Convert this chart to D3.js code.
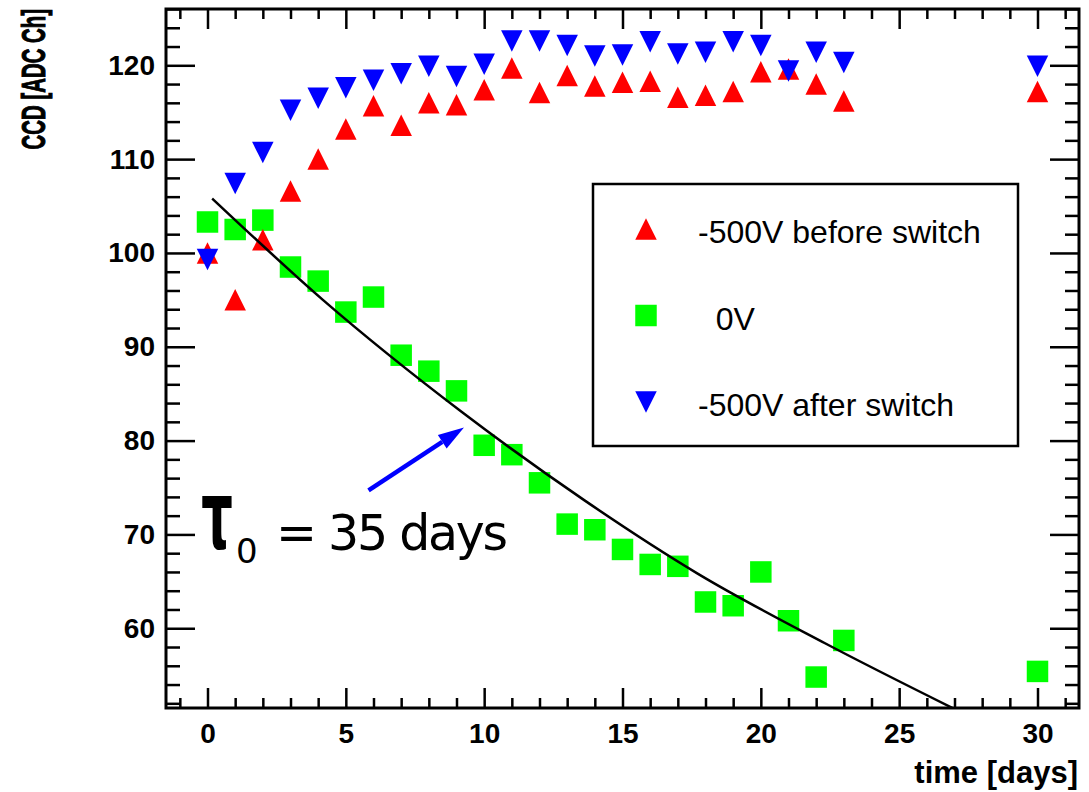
<!DOCTYPE html>
<html>
<head>
<meta charset="utf-8">
<script src="https://cdn.jsdelivr.net/npm/d3@7"></script>
<style>
  body { margin: 0; background: #fff; }
  svg { display: block; }
</style>
</head>
<body>
<div id="chart"></div>
<script>
// measurement days
var days = [0, 1, 2, 3, 4, 5, 6, 7, 8, 9, 10, 11, 12, 13, 14, 15, 16, 17, 18, 19, 20, 21, 22, 23, 30];

// CCD response in ADC channels
var beforeSwitch = [100.0, 95.0, 101.4, 106.6, 110.0, 113.2, 115.7, 113.6, 116.0, 115.8, 117.4, 119.7, 117.1,
    118.9, 117.8, 118.2, 118.3, 116.6, 116.8, 117.2, 119.3, 119.6, 118.0, 116.2, 117.2];
var zeroVolt = [103.3, 102.5, 103.5, 98.5, 97.0, 93.7, 95.3, 89.1, 87.4, 85.3, 79.5, 78.5, 75.5,
    71.1, 70.5, 68.4, 66.8, 66.6, 62.8, 62.4, 66.0, 60.8, 54.8, 58.7, 55.4];
var afterSwitch = [99.3, 107.4, 110.7, 115.2, 116.5, 117.6, 118.4, 119.1, 119.9, 118.8, 120.1, 122.6, 122.6,
    122.1, 121.0, 121.1, 122.5, 121.2, 121.4, 122.5, 122.1, 119.4, 121.4, 120.3, 119.9];

// fitted decay curve
var fitDays = [0.17, 4.17, 9.17, 13.64, 17.73, 22.32, 27.2];
var fitValues = [105.8, 95.0, 83.1, 73.6, 65.8, 58.4, 51.1];

// axis ticks
var xMajorTicks = [0, 5, 10, 15, 20, 25, 30];
var yMajorTicks = [60, 70, 80, 90, 100, 110, 120];

var legendLabels = ["-500V before switch", "  0V", "-500V after switch"];

var width = 1089,
    height = 792,
    frame = { left: 166, top: 9, right: 1079, bottom: 708 },
    markerSize = 21.5,
    tickFont = "'Liberation Sans', Arial, Helvetica, sans-serif",
    red = "#ff0000", green = "#00ff00", blue = "#0000ff";

var xScale = d3.scaleLinear().domain([-1.5, 31.5]).range([frame.left, frame.right]);
var yScale = d3.scaleLinear().domain([51.5, 126]).range([frame.bottom, frame.top]);

var xMinor = d3.range(-1, 32, 1).filter(function (d) { return xMajorTicks.indexOf(d) < 0; });
var yMinor = d3.range(52, 127, 2).filter(function (d) { return yMajorTicks.indexOf(d) < 0; });

var svg = d3.select("#chart").append("svg")
    .attr("width", width)
    .attr("height", height);

svg.append("rect").attr("width", width).attr("height", height).attr("fill", "#fff");

svg.append("clipPath").attr("id", "plotclip")
    .append("rect")
    .attr("x", frame.left).attr("y", frame.top)
    .attr("width", frame.right - frame.left)
    .attr("height", frame.bottom - frame.top);

// axes with inward ticks on all four sides
function styleAxis(g) {
    g.select(".domain").remove();
    g.selectAll(".tick line").attr("stroke", "#000").attr("stroke-width", 2.5);
}

function addAxis(axis, tx, ty, labels) {
    var g = svg.append("g")
        .attr("transform", "translate(" + tx + "," + ty + ")")
        .call(axis);
    styleAxis(g);
    if (!labels) g.selectAll("text").remove();
    return g;
}

var xBottom = addAxis(d3.axisBottom(xScale).tickValues(xMajorTicks).tickSize(-20).tickPadding(15)
    .tickFormat(d3.format("d")), 0, frame.bottom, true);
addAxis(d3.axisBottom(xScale).tickValues(xMinor).tickSize(-10), 0, frame.bottom, false);
addAxis(d3.axisTop(xScale).tickValues(xMajorTicks).tickSize(-20), 0, frame.top, false);
addAxis(d3.axisTop(xScale).tickValues(xMinor).tickSize(-10), 0, frame.top, false);

var yLeft = addAxis(d3.axisLeft(yScale).tickValues(yMajorTicks).tickSize(-29).tickPadding(11)
    .tickFormat(d3.format("d")), frame.left, 0, true);
addAxis(d3.axisLeft(yScale).tickValues(yMinor).tickSize(-14), frame.left, 0, false);
addAxis(d3.axisRight(yScale).tickValues(yMajorTicks).tickSize(-29), frame.right, 0, false);
addAxis(d3.axisRight(yScale).tickValues(yMinor).tickSize(-14), frame.right, 0, false);

xBottom.selectAll("text")
    .attr("font-family", tickFont).attr("font-weight", "bold").attr("font-size", 28).attr("fill", "#000");
yLeft.selectAll("text")
    .attr("font-family", tickFont).attr("font-weight", "bold").attr("font-size", 28).attr("fill", "#000");

// frame
svg.append("rect")
    .attr("x", frame.left).attr("y", frame.top)
    .attr("width", frame.right - frame.left)
    .attr("height", frame.bottom - frame.top)
    .attr("fill", "none").attr("stroke", "#000").attr("stroke-width", 3);

// axis titles (the y title is condensed like the original)
svg.append("text")
    .attr("transform", "translate(45," + frame.top + ") rotate(-90) scale(0.6,1)")
    .attr("text-anchor", "end")
    .attr("font-family", tickFont)
    .attr("font-weight", "bold")
    .attr("font-size", 34)
    .attr("stroke", "#000")
    .attr("stroke-width", 1)
    .text("CCD [ADC Ch]");

svg.append("text")
    .attr("x", 1078).attr("y", 783)
    .attr("text-anchor", "end")
    .attr("font-family", tickFont)
    .attr("font-weight", "bold")
    .attr("font-size", 31)
    .text("time [days]");

// marker shapes, centred on their bounding box
var h = markerSize / 2;
var upTri = "M0," + (-h) + "L" + h + "," + h + "L" + (-h) + "," + h + "Z";
var downTri = "M0," + h + "L" + h + "," + (-h) + "L" + (-h) + "," + (-h) + "Z";
var square = "M" + (-h) + "," + (-h) + "h" + markerSize + "v" + markerSize + "h" + (-markerSize) + "Z";

var plot = svg.append("g").attr("clip-path", "url(#plotclip)");

function drawSeries(values, shape, color) {
    plot.append("g").selectAll("path")
        .data(values)
        .enter()
        .append("path")
        .attr("d", shape)
        .attr("fill", color)
        .attr("transform", function (d, i) {
            return "translate(" + xScale(days[i]) + "," + yScale(d) + ")";
        });
}

drawSeries(zeroVolt, square, green);
drawSeries(beforeSwitch, upTri, red);
drawSeries(afterSwitch, downTri, blue);

// decay fit
var fitLine = d3.line()
    .x(function (d, i) { return xScale(fitDays[i]); })
    .y(function (d) { return yScale(d); })
    .curve(d3.curveMonotoneX);

plot.append("path")
    .attr("d", fitLine(fitValues))
    .attr("fill", "none")
    .attr("stroke", "#000")
    .attr("stroke-width", 2.5);

// legend
svg.append("rect")
    .attr("x", 593).attr("y", 184)
    .attr("width", 425).attr("height", 262)
    .attr("fill", "#fff").attr("stroke", "#000").attr("stroke-width", 2.5);

var legendShapes = [upTri, square, downTri],
    legendColors = [red, green, blue];

var legend = svg.selectAll(".legend")
    .data(legendLabels)
    .enter()
    .append("g")
    .attr("class", "legend")
    .attr("transform", function (d, i) {
        return "translate(646," + (229 + i * 86.5) + ")";
    });

legend.append("path")
    .attr("d", function (d, i) { return legendShapes[i]; })
    .attr("fill", function (d, i) { return legendColors[i]; });

legend.append("text")
    .attr("x", 52)
    .attr("y", 14)
    .attr("font-family", tickFont)
    .attr("font-size", 32)
    .attr("xml:space", "preserve")
    .style("white-space", "pre")
    .text(function (d) { return d; });

// arrow pointing at the fit
var tail = [xScale(5.82), yScale(74.7)],
    tip = [xScale(9.27), yScale(81.4)],
    ang = Math.atan2(tip[1] - tail[1], tip[0] - tail[0]),
    headLen = 26, headHalf = 8;
var base = [tip[0] - headLen * Math.cos(ang), tip[1] - headLen * Math.sin(ang)];

svg.append("line")
    .attr("x1", tail[0]).attr("y1", tail[1])
    .attr("x2", base[0]).attr("y2", base[1])
    .attr("stroke", blue).attr("stroke-width", 4.5);

svg.append("path")
    .attr("d", "M" + tip[0] + "," + tip[1] +
        "L" + (base[0] - headHalf * Math.sin(ang)) + "," + (base[1] + headHalf * Math.cos(ang)) +
        "L" + (base[0] + headHalf * Math.sin(ang)) + "," + (base[1] - headHalf * Math.cos(ang)) + "Z")
    .attr("fill", blue);

// tau annotation
svg.append("text")
    .attr("transform", "translate(217,549) scale(0.8,1.55)")
    .attr("text-anchor", "middle")
    .attr("font-family", "'DejaVu Sans', sans-serif")
    .attr("font-weight", "bold")
    .attr("font-size", 62)
    .text("τ");

svg.append("text")
    .attr("x", 236).attr("y", 563)
    .attr("font-family", "'DejaVu Sans', sans-serif")
    .attr("font-size", 34)
    .text("0");

svg.append("text")
    .attr("x", 276).attr("y", 550)
    .attr("font-family", "'DejaVu Sans', sans-serif")
    .attr("font-size", 49)
    .attr("textLength", 232)
    .text("= 35 days");
</script>
</body>
</html>
